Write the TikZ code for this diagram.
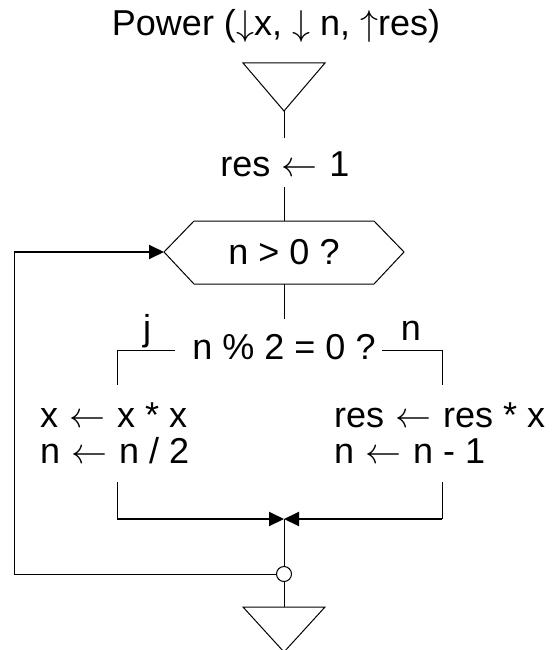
\RequirePackage{fix-cm}
\documentclass[tikz,border=0pt]{standalone}
\usepackage{fontspec}
\setmainfont{Liberation Sans}
\usetikzlibrary{arrows.meta}
\newcommand\lar{\kern1.5pt$\leftarrow$\kern1.5pt}
\begin{document}
\begin{tikzpicture}[x=1pt,y=-1pt,
  txt/.style={font=\fontsize{36}{40}\selectfont, inner sep=0pt},
  thinln/.style={line width=1pt},
  thickln/.style={line width=2pt},
  tipped/.style={-{Triangle[length=15pt,width=14pt]}}]
\useasboundingbox (0,0) rectangle (553,650);
% title
\node[txt, anchor=base] (title) at (276,36) {Power ($\downarrow$x, $\downarrow$ n, $\uparrow$res)};
% top triangle
\coordinate (t1a) at (243,63);
\coordinate (t1b) at (325,63);
\coordinate (t1) at (284,111);
\draw[thinln] (t1a) -- (t1b) -- (t1) -- cycle;
% res <- 1
\node[txt, anchor=base] (init) at (285,176) {res \lar\ 1};
\coordinate (initT) at (284,138);
\coordinate (initB) at (284,187);
\draw[thinln] (t1) -- (initT);
% hexagon
\node[txt] (loop) at (284,252) {n > 0 ?};
\coordinate (hexL) at (164,252);
\coordinate (hexT) at (284,221);
\coordinate (hexB) at (284,284);
\draw[thinln] (hexL) -- (194,221) -- (374,221) -- (404,252) -- (374,284) -- (194,284) -- cycle;
\draw[thinln] (initB) -- (hexT);
% condition
\node[txt, anchor=base] (cond) at (284,359) {n \% 2 = 0 ?};
\coordinate (condT) at (284,319);
\draw[thinln] (hexB) -- (condT);
\coordinate (cL) at (175,350);
\coordinate (cR) at (382,350);
\coordinate (bL) at (117,350);
\coordinate (bR) at (442,350);
\coordinate (bLd) at (117,385);
\coordinate (bRd) at (442,385);
\draw[thinln] (cL) -- (bL) -- (bLd);
\draw[thinln] (cR) -- (bR) -- (bRd);
\node[txt, anchor=base] (yes) at (147,340) {j};
\node[txt, anchor=base] (no) at (411,340) {n};
% branch statements
\node[txt, anchor=base west] (l1) at (40,427) {x \lar\ x * x};
\node[txt, anchor=base west] (l2) at (40,463) {n \lar\ n / 2};
\node[txt, anchor=base west] (r1) at (334,427) {res \lar\ res * x};
\node[txt, anchor=base west] (r2) at (334,463) {n \lar\ n - 1};
% merge
\coordinate (mL) at (117,482);
\coordinate (mR) at (442,482);
\coordinate (mLc) at (117,519);
\coordinate (mRc) at (442,519);
\coordinate (merge) at (284,519);
\draw[thinln] (mL) -- (mLc);
\draw[thinln] (mR) -- (mRc);
\draw[thickln, tipped] (mLc) -- (merge);
\draw[thickln, tipped] (mRc) -- (merge);
% junction
\node[circle, draw, thinln, minimum size=15pt, inner sep=0pt] (jn) at (284,574) {};
\draw[thinln] (merge) -- (jn.north);
% loop back
\coordinate (lpB) at (14,574);
\coordinate (lpT) at (14,252);
\draw[thinln] (jn.west) -- (lpB) -- (lpT);
\draw[thickln, tipped] (lpT) -- (hexL);
% bottom triangle
\coordinate (t2a) at (243,607);
\coordinate (t2b) at (325,607);
\coordinate (t2top) at (284,607);
\coordinate (t2) at (284,652);
\draw[thinln] (jn.south) -- (t2top);
\draw[thinln] (t2a) -- (t2b) -- (t2) -- cycle;
\end{tikzpicture}
\end{document}
